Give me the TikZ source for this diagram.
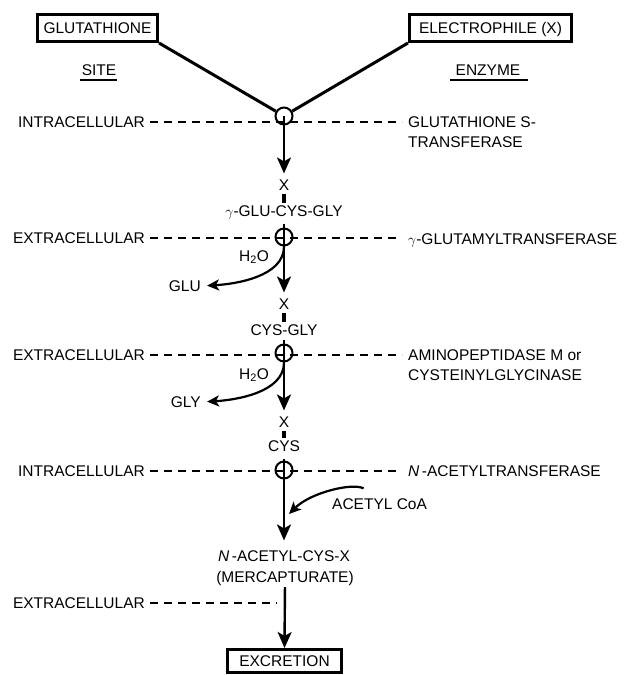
\documentclass[tikz,border=0pt]{standalone}
\usepackage{fontspec}
\setmainfont{Liberation Sans}
\usetikzlibrary{arrows.meta}
\begin{document}
\begin{tikzpicture}[x=1pt,y=-1pt,
  every node/.style={font=\fontsize{15.5}{20}\selectfont},
  lbl/.style={inner sep=0pt, text height=10.7pt, text depth=0pt},
  rl/.style={inner sep=0pt, anchor=north west, align=left},
  box/.style={draw, line width=3pt, inner sep=0pt, text height=10.7pt, text depth=0pt, minimum height=27pt},
  junc/.style={draw, circle, line width=2pt, minimum size=17pt, inner sep=0pt},
  memb/.style={line width=2pt, dash pattern=on 8pt off 6pt},
  feed/.style={line width=3pt},
  flow/.style={line width=2.4pt, -{Stealth[length=16pt,width=14pt,inset=4pt]}, shorten >=6pt},
  bond/.style={line width=4pt, shorten <=3pt, shorten >=2pt},
  side/.style={line width=2.2pt, -{Stealth[length=12pt,width=11pt,inset=3pt]}},
  uline/.style={line width=1.5pt}
]
\useasboundingbox (0,0) rectangle (626,675);

% top boxes and column heads
\node[box, minimum width=120pt] (glut) at (97.5,28) {GLUTATHIONE};
\node[box, minimum width=162pt] (elec) at (490.5,28) {ELECTROPHILE (X)};
\node[lbl] (site) at (99,70.5) {SITE};
\node[lbl] (enz) at (488,70.5) {ENZYME};
\draw[uline] ([xshift=-2pt,yshift=-4pt]site.south west) -- ([xshift=1pt,yshift=-4pt]site.south east);
\draw[uline] ([xshift=-6pt,yshift=-4pt]enz.south west) -- ([xshift=8pt,yshift=-4pt]enz.south east);

% site labels
\node[lbl, anchor=east] (in1) at (145,122) {INTRACELLULAR};
\node[lbl, anchor=east] (ex1) at (145,238) {EXTRACELLULAR};
\node[lbl, anchor=east] (ex2) at (145,355) {EXTRACELLULAR};
\node[lbl, anchor=east] (in2) at (145,471) {INTRACELLULAR};
\node[lbl, anchor=east] (ex3) at (145,603) {EXTRACELLULAR};

% enzyme labels
\node[rl] (e1) at (408,116.6) {GLUTATHIONE S-\\TRANSFERASE};
\node[lbl, anchor=west] (e2) at (408,239) {\(\gamma\)-GLUTAMYLTRANSFERASE};
\node[rl] (e3) at (408,349.6) {AMINOPEPTIDASE M or\\CYSTEINYLGLYCINASE};
\node[lbl, anchor=west] (e4) at (408,471) {{\itshape N}\,-ACETYLTRANSFERASE};

% pathway
\node[junc] (c1) at (284,116) {};
\node[lbl] (x1) at (284,185) {X};
\node[lbl] (g1) at (284,211) {\(\gamma\)-GLU-CYS-GLY};
\node[junc] (c2) at (284,237) {};
\node[lbl] (h1) at (254,256) {H\textsubscript{2}O};
\node[lbl, anchor=east] (glu) at (201,286) {GLU};
\node[lbl] (x2) at (284,304) {X};
\node[lbl] (cg) at (284,330) {CYS-GLY};
\node[junc] (c3) at (284,353) {};
\node[lbl] (h2) at (254,374) {H\textsubscript{2}O};
\node[lbl, anchor=east] (gly) at (201,402) {GLY};
\node[lbl] (x3) at (284,422) {X};
\node[lbl] (cys) at (284,446) {CYS};
\node[junc] (c4) at (284,470) {};
\node[lbl, anchor=west] (acoa) at (332,504) {ACETYL CoA};
\node[lbl] (nac) at (284,556) {{\itshape N}\,-ACETYL-CYS-X};
\node[lbl] (merc) at (285,577) {(MERCAPTURATE)};
\node[box, minimum width=114pt, minimum height=23pt] (exc) at (284.5,661) {EXCRETION};
\coordinate (acin) at (289,514);

% membranes
\draw[memb] ([xshift=5pt]in1.east) -- ([xshift=-6pt]in1.east -| e1.west);
\draw[memb] ([xshift=5pt]ex1.east) -- ([xshift=-8pt]ex1.east -| e2.west);
\draw[memb] ([xshift=5pt]ex2.east) -- ([xshift=-6pt]ex2.east -| e3.west);
\draw[memb] ([xshift=5pt]in2.east) -- ([xshift=-8pt]in2.east -| e4.west);
\draw[memb] ([xshift=5pt]ex3.east) -- ([xshift=-7pt]ex3.east -| c4.center);

% feed lines
\draw[feed] (glut.south east) -- (c1);
\draw[feed] (elec.south west) -- (c1);

% main flow
\draw[flow] (c1.center) -- (x1.north);
\draw[bond] (x1.south) -- (g1.north);
\draw[flow] ([yshift=4pt]c2.north) -- (x2.north);
\draw[bond] (x2.south) -- (cg.north);
\draw[flow] ([yshift=4pt]c3.north) -- (x3.north);
\draw[bond] (x3.south) -- (cys.north);
\draw[flow, shorten >=10pt] ([yshift=2pt]c4.north) -- (nac.north);
\draw[flow, shorten <=4.5pt, shorten >=0pt] (merc.south) -- (exc.north);

% side reactions
\draw[side, shorten >=6pt] (c2.south) .. controls +(0,30) and +(35,-2) .. (glu.east);
\draw[side, shorten >=6pt] (c3.south) .. controls +(0,30) and +(35,-2) .. (gly.east);
\draw[side] ([xshift=-16pt,yshift=10pt]acoa.north) .. controls +(-10,-6) and +(22,-22) .. (acin);
\end{tikzpicture}
\end{document}
